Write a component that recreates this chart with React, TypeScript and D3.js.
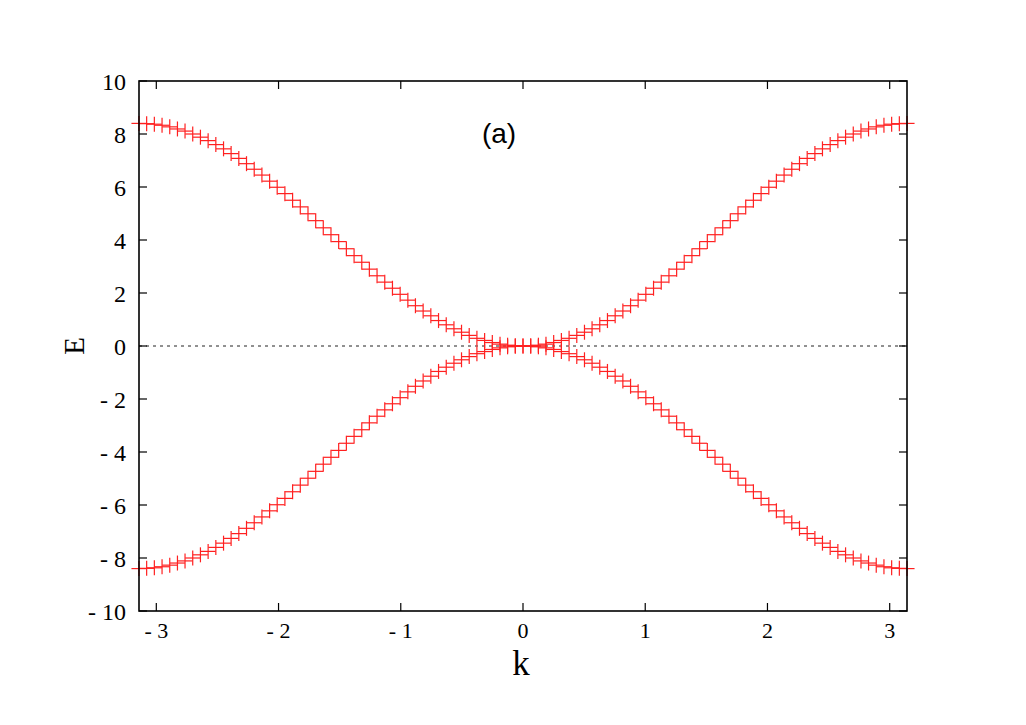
import React from "react";
import * as d3 from "d3";

const kValues = [-3.142,-3.079,-3.016,-2.953,-2.890,-2.827,-2.765,-2.702,-2.639,-2.576,-2.513,-2.450,-2.388,-2.325,-2.262,-2.199,-2.136,-2.073,-2.011,-1.948,-1.885,-1.822,-1.759,-1.696,-1.634,-1.571,-1.508,-1.445,-1.382,-1.319,-1.257,-1.194,-1.131,-1.068,-1.005,-0.942,-0.880,-0.817,-0.754,-0.691,-0.628,-0.565,-0.503,-0.440,-0.377,-0.314,-0.251,-0.188,-0.126,-0.063,0,0.063,0.126,0.188,0.251,0.314,0.377,0.440,0.503,0.565,0.628,0.691,0.754,0.817,0.880,0.942,1.005,1.068,1.131,1.194,1.257,1.319,1.382,1.445,1.508,1.571,1.634,1.696,1.759,1.822,1.885,1.948,2.011,2.073,2.136,2.199,2.262,2.325,2.388,2.450,2.513,2.576,2.639,2.702,2.765,2.827,2.890,2.953,3.016,3.079,3.142];

const upperE = [8.40,8.39,8.37,8.33,8.27,8.19,8.11,8.00,7.88,7.75,7.60,7.44,7.26,7.08,6.88,6.67,6.45,6.22,5.99,5.75,5.50,5.25,4.99,4.73,4.46,4.20,3.94,3.67,3.41,3.16,2.90,2.65,2.41,2.18,1.95,1.73,1.52,1.32,1.14,0.96,0.80,0.65,0.52,0.40,0.29,0.21,0.13,0.07,0.03,0.01,0,0.01,0.03,0.07,0.13,0.21,0.29,0.40,0.52,0.65,0.80,0.96,1.14,1.32,1.52,1.73,1.95,2.18,2.41,2.65,2.90,3.16,3.41,3.67,3.94,4.20,4.46,4.73,4.99,5.25,5.50,5.75,5.99,6.22,6.45,6.67,6.88,7.08,7.26,7.44,7.60,7.75,7.88,8.00,8.11,8.19,8.27,8.33,8.37,8.39,8.40];

const lowerE = [-8.40,-8.39,-8.37,-8.33,-8.27,-8.19,-8.11,-8.00,-7.88,-7.75,-7.60,-7.44,-7.26,-7.08,-6.88,-6.67,-6.45,-6.22,-5.99,-5.75,-5.50,-5.25,-4.99,-4.73,-4.46,-4.20,-3.94,-3.67,-3.41,-3.16,-2.90,-2.65,-2.41,-2.18,-1.95,-1.73,-1.52,-1.32,-1.14,-0.96,-0.80,-0.65,-0.52,-0.40,-0.29,-0.21,-0.13,-0.07,-0.03,-0.01,0,-0.01,-0.03,-0.07,-0.13,-0.21,-0.29,-0.40,-0.52,-0.65,-0.80,-0.96,-1.14,-1.32,-1.52,-1.73,-1.95,-2.18,-2.41,-2.65,-2.90,-3.16,-3.41,-3.67,-3.94,-4.20,-4.46,-4.73,-4.99,-5.25,-5.50,-5.75,-5.99,-6.22,-6.45,-6.67,-6.88,-7.08,-7.26,-7.44,-7.60,-7.75,-7.88,-8.00,-8.11,-8.19,-8.27,-8.33,-8.37,-8.39,-8.40];

const xTicks = [-3, -2, -1, 0, 1, 2, 3];
const yTicks = [-10, -8, -6, -4, -2, 0, 2, 4, 6, 8, 10];
const xDomain = [-3.14159, 3.14159];
const yDomain = [-10, 10];

const W = 1026, H = 725;
const L = 139, R = 907, T = 81, B = 611;

const fmt = (v: number) => (v < 0 ? "- " + Math.abs(v) : String(v));

export default function App() {
  const x = d3.scaleLinear().domain(xDomain).range([L, R]);
  const y = d3.scaleLinear().domain(yDomain).range([B, T]);
  const serif = "'Liberation Serif', 'Times New Roman', serif";
  const tl = 8;
  const ms = 7.5;
  const series = [upperE, lowerE];
  return (
    <div style={{ position: "absolute", left: 0, top: 0 }}>
      <svg width={W} height={H} style={{ display: "block", background: "#fff" }}>
        <line x1={L} x2={R} y1={y(0)} y2={y(0)} stroke="#222" strokeWidth={1} strokeDasharray="3,4" />
        {series.map((s, si) => (
          <g key={si} stroke="#ff2020" strokeWidth={1.2}>
            {s.map((e, i) => {
              const px = x(kValues[i]);
              const py = y(e);
              return (
                <g key={i}>
                  <line x1={px - ms} x2={px + ms} y1={py} y2={py} />
                  <line x1={px} x2={px} y1={py - ms} y2={py + ms} />
                </g>
              );
            })}
          </g>
        ))}
        <rect x={L} y={T} width={R - L} height={B - T} fill="none" stroke="#000" strokeWidth={1.6} />
        {xTicks.map((t) => (
          <g key={"x" + t}>
            <line x1={x(t)} x2={x(t)} y1={B} y2={B - tl} stroke="#000" strokeWidth={1.2} />
            <line x1={x(t)} x2={x(t)} y1={T} y2={T + tl} stroke="#000" strokeWidth={1.2} />
            <text x={x(t)} y={B + 27} textAnchor="middle" fontFamily={serif} fontSize={22} fill="#000">
              {fmt(t)}
            </text>
          </g>
        ))}
        {yTicks.map((t) => (
          <g key={"y" + t}>
            <line x1={L} x2={L + tl} y1={y(t)} y2={y(t)} stroke="#000" strokeWidth={1.2} />
            <line x1={R} x2={R - tl} y1={y(t)} y2={y(t)} stroke="#000" strokeWidth={1.2} />
            <text x={126} y={y(t) + 8.5} textAnchor="end" fontFamily={serif} fontSize={24} fill="#000">
              {fmt(t)}
            </text>
          </g>
        ))}
        <text
          x={0}
          y={0}
          transform={`translate(84, ${y(0)}) rotate(-90)`}
          textAnchor="middle"
          fontFamily={serif}
          fontSize={29}
          fill="#000"
        >
          E
        </text>
        <text x={521} y={675} textAnchor="middle" fontFamily={serif} fontSize={35} fill="#000">k</text>
        <text x={499} y={143} textAnchor="middle" fontFamily="'Liberation Sans', Arial, sans-serif" fontSize={28} fill="#000">(a)</text>
      </svg>
    </div>
  );
}
